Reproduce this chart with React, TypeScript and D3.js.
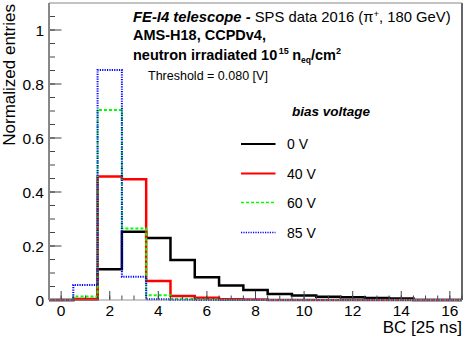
import React, { useEffect, useRef } from 'react';
import * as d3 from 'd3';

const width = 466;
const height = 352;
const margin = { top: 3, right: 4, bottom: 52, left: 49 };
const font = "'Liberation Sans', Arial, Helvetica, sans-serif";

// bin centres (BC), bin width 1
const bins = [0, 1, 2, 3, 4, 5, 6, 7, 8, 9, 10, 11, 12, 13, 14, 15, 16];
const v0 = [0, 0.003, 0.114, 0.253, 0.23, 0.148, 0.084, 0.054, 0.037, 0.022, 0.017, 0.012, 0.01, 0.0075, 0.006, 0, 0];
const v40 = [0, 0.004, 0.457, 0.447, 0.07, 0.015, 0.008, 0.003, 0.002, 0, 0, 0, 0, 0, 0, 0, 0];
const v60 = [0, 0.013, 0.704, 0.265, 0.018, 0.005, 0.002, 0, 0, 0, 0, 0, 0, 0, 0, 0, 0];
const v85 = [0, 0.056, 0.852, 0.086, 0.003, 0.001, 0, 0, 0, 0, 0, 0, 0, 0, 0, 0, 0];

const xTicks = [0, 2, 4, 6, 8, 10, 12, 14, 16];
const yTicks = [0, 0.2, 0.4, 0.6, 0.8, 1];
const yLabels = ['0', '0.2', '0.4', '0.6', '0.8', '1'];

const seriesNames = ['0 V', '40 V', '60 V', '85 V'];
const seriesColors = ['#000000', '#ff0000', '#00ff00', '#0000ff'];
const seriesDash = [null, null, '3,2', '1.2,1.2'];
const seriesWidth = [2.5, 2.5, 2, 2];
const seriesValues = [v0, v40, v60, v85];

export default function App() {
    const ref = useRef<SVGGElement>(null);

    useEffect(() => {
        const svg = d3.select(ref.current);
        svg.selectAll('*').remove();

        const x = d3.scaleLinear().domain([-0.5, 16.5]).range([margin.left, width - margin.right]);
        const y = d3.scaleLinear().domain([0, 1.1]).range([height - margin.bottom, margin.top]);
        const x0 = x.range()[0], x1 = x.range()[1];
        const yb = y(0), yt = y(1.1);

        // frame
        svg.append('line').attr('x1', x1).attr('x2', x1).attr('y1', yt).attr('y2', yb)
            .attr('stroke', '#000').attr('stroke-width', 1.2);
        svg.append('line').attr('x1', x0).attr('x2', x1).attr('y1', yt).attr('y2', yt)
            .attr('stroke', '#888').attr('stroke-width', 1.2);

        // histograms
        const line = d3.line<[number, number]>().x(d => x(d[0])).y(d => y(d[1]));
        seriesValues.forEach((vals, k) => {
            const pts: [number, number][] = [[bins[0] - 0.5, 0]];
            vals.forEach((v, i) => {
                pts.push([bins[i] - 0.5, v]);
                pts.push([bins[i] + 0.5, v]);
            });
            pts.push([bins[bins.length - 1] + 0.5, 0]);
            svg.append('path')
                .attr('d', line(pts))
                .attr('fill', 'none')
                .attr('stroke', seriesColors[k])
                .attr('stroke-width', seriesWidth[k])
                .attr('stroke-dasharray', seriesDash[k])
                .attr('stroke-linejoin', 'miter');
        });

        // x axis
        const xMinor = d3.range(0, 16.51, 0.5);
        const gx = svg.append('g');
        gx.selectAll('line.minor').data(xMinor).join('line')
            .attr('x1', d => x(d)).attr('x2', d => x(d))
            .attr('y1', yb).attr('y2', yb - 4.5)
            .attr('stroke', '#444').attr('stroke-width', 1);
        gx.selectAll('line.major').data(xTicks).join('line')
            .attr('x1', d => x(d)).attr('x2', d => x(d))
            .attr('y1', yb).attr('y2', yb - 9)
            .attr('stroke', '#444').attr('stroke-width', 1);
        gx.selectAll('text').data(xTicks).join('text')
            .attr('x', d => x(d)).attr('y', yb + 16)
            .attr('text-anchor', 'middle')
            .attr('font-family', font).attr('font-size', 15.5)
            .text(d => `${d}`);

        // y axis
        const yMinor = d3.range(0, 1.051, 0.05);
        const gy = svg.append('g');
        gy.selectAll('line.minor').data(yMinor).join('line')
            .attr('x1', x0).attr('x2', x0 + 6)
            .attr('y1', d => y(d)).attr('y2', d => y(d))
            .attr('stroke', '#444').attr('stroke-width', 1);
        gy.selectAll('line.major').data(yTicks).join('line')
            .attr('x1', x0).attr('x2', x0 + 12.5)
            .attr('y1', d => y(d)).attr('y2', d => y(d))
            .attr('stroke', '#444').attr('stroke-width', 1);
        gy.selectAll('text').data(yTicks).join('text')
            .attr('x', x0 - 5).attr('y', d => y(d) + 5.5)
            .attr('text-anchor', 'end')
            .attr('font-family', font).attr('font-size', 15.5)
            .text((d, i) => yLabels[i]);

        // axis lines (gray)
        svg.append('line').attr('x1', x0).attr('x2', x0).attr('y1', yt).attr('y2', yb)
            .attr('stroke', '#888').attr('stroke-width', 2);
        svg.append('line').attr('x1', x0).attr('x2', x1).attr('y1', yb).attr('y2', yb)
            .attr('stroke', '#888').attr('stroke-width', 1.5).attr('opacity', 0.6);

        // axis titles
        svg.append('text')
            .attr('transform', `translate(15,${yt + 1}) rotate(-90)`)
            .attr('text-anchor', 'end')
            .attr('font-family', font).attr('font-size', 17)
            .text('Normalized entries');
        svg.append('text')
            .attr('x', x1).attr('y', 333)
            .attr('text-anchor', 'end')
            .attr('font-family', font).attr('font-size', 17)
            .text('BC [25 ns]');

        // legend
        const lg = svg.append('g');
        lg.append('text')
            .attr('x', 292).attr('y', 116)
            .attr('font-family', font).attr('font-size', 13.5)
            .attr('font-weight', 'bold').attr('font-style', 'italic')
            .text('bias voltage');
        const legendY = [144, 173.5, 202.5, 232.5];
        seriesNames.forEach((name, k) => {
            lg.append('line')
                .attr('x1', 241).attr('x2', 275.5)
                .attr('y1', legendY[k]).attr('y2', legendY[k])
                .attr('stroke', seriesColors[k])
                .attr('stroke-width', k < 2 ? 2 : 1.5)
                .attr('stroke-dasharray', seriesDash[k]);
            lg.append('text')
                .attr('x', 287).attr('y', legendY[k] + 5)
                .attr('font-family', font).attr('font-size', 14)
                .text(name);
        });
    }, []);

    return (
        <svg width={width} height={height}
            style={{ position: 'absolute', left: 0, top: 0, background: '#fff' }}
            fontFamily={font}>
            <g ref={ref} />
            <text x={133} y={22} fontSize={14.8}>
                <tspan fontWeight="bold" fontStyle="italic">FE-I4 telescope - </tspan>
                <tspan>SPS data 2016 (π</tspan>
                <tspan fontSize={9.5} dy={-5}>+</tspan>
                <tspan dy={5}>, 180 GeV)</tspan>
            </text>
            <text x={133} y={40} fontSize={14.5} fontWeight="bold">AMS-H18, CCPDv4,</text>
            <text x={133} y={60} fontSize={14.5} fontWeight="bold">
                neutron irradiated 10
                <tspan fontSize={9} dx={1.5} dy={-6}>15</tspan>
                <tspan dx={3.5} dy={6}>n</tspan>
                <tspan fontSize={8.5} dy={3}>eq</tspan>
                <tspan dy={-3}>/cm</tspan>
                <tspan fontSize={9} dy={-6}>2</tspan>
            </text>
            <text x={148} y={80} fontSize={12.5}>Threshold = 0.080 [V]</text>
        </svg>
    );
}
